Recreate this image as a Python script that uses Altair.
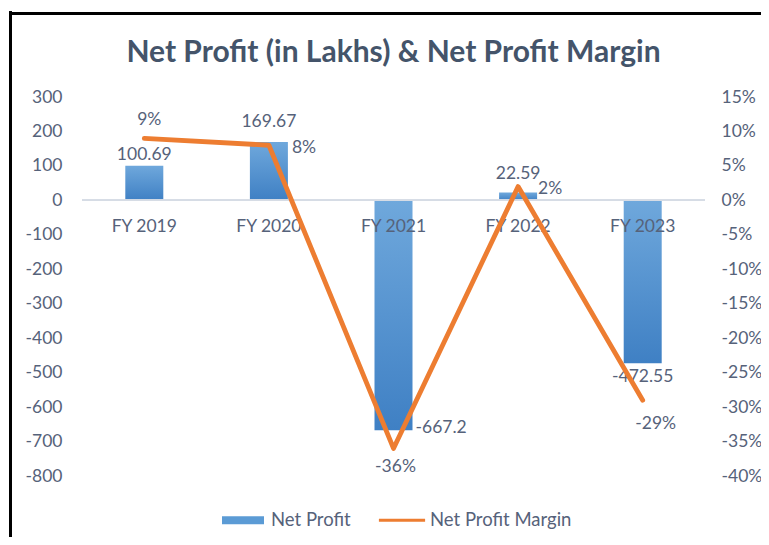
import altair as alt
import pandas as pd

categories = ["FY 2019", "FY 2020", "FY 2021", "FY 2022", "FY 2023"]
net_profit = [100.69, 169.67, -667.2, 22.59, -472.55]
margin_pct = [9, 8, -36, 2, -29]
series_names = ["Net Profit", "Net Profit Margin"]
left_ticks = [300, 200, 100, 0, -100, -200, -300, -400, -500, -600, -700, -800]
right_ticks_pct = [15, 10, 5, 0, -5, -10, -15, -20, -25, -30, -35, -40]

df = pd.DataFrame({
    "cat": categories,
    "profit": net_profit,
    "profit_label": [str(v) for v in net_profit],
    "margin": [m / 100 for m in margin_pct],
    "margin_label": [f"{m}%" for m in margin_pct],
})
legend_df = pd.DataFrame({"series": series_names})

FONT = "Lato"
FS = 17.5
TXT = "#56627A"
BLUE_TOP = "#6FA8DC"
BLUE_BOT = "#3F80C4"
ORANGE = "#ED7D31"
MINUS_FIX = "replace(datum.label, '\u2212', '-')"

x_enc = alt.X("cat:N", sort=categories, axis=None,
              scale=alt.Scale(paddingInner=0, paddingOuter=0))
y_left_scale = alt.Scale(domain=[-800, 300], nice=False, zero=False)
y_right_scale = alt.Scale(domain=[-0.40, 0.15], nice=False, zero=False)

LEFT_AXIS = alt.Axis(title=None, values=left_ticks, tickCount=12,
                     domain=False, ticks=False, grid=False,
                     labelOverlap=False, labelExpr=MINUS_FIX,
                     labelPadding=20, labelFont=FONT, labelFontSize=FS,
                     labelColor=TXT)
RIGHT_AXIS = alt.Axis(title=None, orient="right", format=".0%",
                      values=[v / 100 for v in right_ticks_pct], tickCount=12,
                      domain=False, ticks=False, grid=False,
                      labelOverlap=False, labelExpr=MINUS_FIX,
                      labelPadding=16, labelFont=FONT, labelFontSize=FS,
                      labelColor=TXT)


def yl(field):
    return alt.Y(field, scale=y_left_scale, axis=LEFT_AXIS)


def yr(field):
    return alt.Y(field, scale=y_right_scale, axis=RIGHT_AXIS)


base = alt.Chart(df)

bars = base.mark_bar(
    size=38,
    color=alt.Gradient(
        gradient="linear",
        stops=[alt.GradientStop(color=BLUE_TOP, offset=0),
               alt.GradientStop(color=BLUE_BOT, offset=1)],
        x1=0, x2=0, y1=0, y2=1),
).encode(x=x_enc, y=yl("profit:Q"))

frame_v = base.mark_rule(color="black", strokeWidth=3).encode(
    x=alt.value(-71.5), y=alt.value(-85.5), y2=alt.value(460))
frame_h = base.mark_rule(color="black", strokeWidth=3).encode(
    x=alt.value(-73), x2=alt.value(700), y=alt.value(-83.5))

zero_rule = base.mark_rule(color="#D6DCE5", strokeWidth=1.5).encode(
    y=alt.datum(0, scale=y_left_scale, axis=LEFT_AXIS))

xlabels = base.mark_text(font=FONT, fontSize=FS, color=TXT, dy=27).encode(
    x=x_enc, y=alt.datum(0, scale=y_left_scale, axis=LEFT_AXIS), text="cat:N")


def txt(cats, col, yenc, **kw):
    return base.transform_filter(
        alt.FieldOneOfPredicate(field="cat", oneOf=cats)
    ).mark_text(font=FONT, fontSize=FS, color=TXT, baseline="middle", **kw).encode(
        x=x_enc, y=yenc, text=f"{col}:N")


bl1 = txt(["FY 2019"], "profit_label", yl("profit:Q"), dy=-11)
bl2 = txt(["FY 2020"], "profit_label", yl("profit:Q"), dy=-20)
bl3 = txt(["FY 2021"], "profit_label", yl("profit:Q"), align="left", dx=22, dy=-2)
bl4 = txt(["FY 2022"], "profit_label", yl("profit:Q"), dy=-19)
bl5 = txt(["FY 2023"], "profit_label", yl("profit:Q"), dy=14)

legend_layer = alt.Chart(legend_df).mark_point(filled=True, opacity=0).encode(
    color=alt.Color("series:N", sort=series_names,
                    scale=alt.Scale(domain=series_names, range=["#5B9BD5", ORANGE]),
                    legend=alt.Legend(
                        title=None, orient="none", legendX=140, legendY=402,
                        direction="horizontal", labelFont=FONT, labelFontSize=18.5,
                        labelColor=TXT, symbolOpacity=1, symbolStrokeWidth=0,
                        symbolSize=1764, labelOffset=7, columnPadding=27)),
    shape=alt.Shape("series:N", sort=series_names,
                    scale=alt.Scale(domain=series_names,
                                    range=["M-1,-0.19H1V0.19H-1Z",
                                           "M-1.1,-0.07H1.1V0.07H-1.1Z"]),
                    legend=None),
)

left = alt.layer(bars, frame_v, frame_h, zero_rule, xlabels,
                 bl1, bl2, bl3, bl4, bl5, legend_layer)

line = base.mark_line(color=ORANGE, strokeWidth=4.8, strokeCap="round",
                      strokeJoin="round").encode(x=x_enc, y=yr("margin:Q"))

ml1 = txt(["FY 2019"], "margin_label", yr("margin:Q"), dx=5, dy=-18)
ml2 = txt(["FY 2020"], "margin_label", yr("margin:Q"), align="left", dx=23, dy=3)
ml3 = txt(["FY 2021"], "margin_label", yr("margin:Q"), dx=2, dy=19)
ml4 = txt(["FY 2022"], "margin_label", yr("margin:Q"), align="left", dx=20, dy=2)
ml5 = txt(["FY 2023"], "margin_label", yr("margin:Q"), dx=13, dy=24)

right = alt.layer(line, ml1, ml2, ml3, ml4, ml5)

chart = alt.layer(left, right).resolve_scale(y="independent").properties(
    width=623, height=379,
    autosize=alt.AutoSizeParams(type="none"),
    padding={"left": 74, "top": 89, "right": 56, "bottom": 61},
    background="white",
    title=alt.TitleParams("Net Profit (in Lakhs) & Net Profit Margin",
                          font=FONT, fontSize=30, fontWeight="bold",
                          color="#44546A", anchor="middle", offset=-58),
).configure_view(stroke=None)

chart.save("out.html", embed_options={"renderer": "svg", "actions": False})
